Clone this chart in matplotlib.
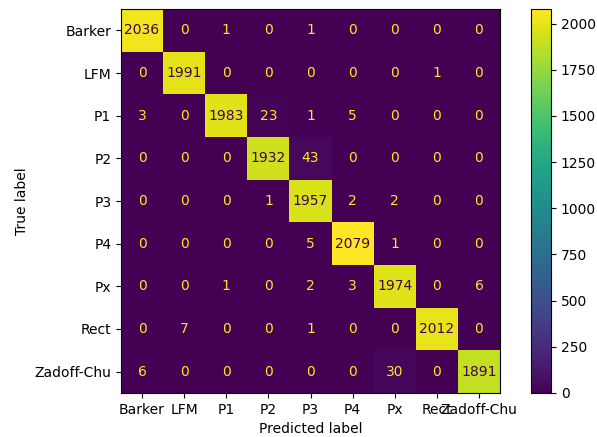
import matplotlib
matplotlib.use("Agg")
import matplotlib.pyplot as plt
import numpy as np

labels = ["Barker", "LFM", "P1", "P2", "P3", "P4", "Px", "Rect", "Zadoff-Chu"]

# rows: true label, columns: predicted label
cm = np.array([
    [2036, 0, 1, 0, 1, 0, 0, 0, 0],
    [0, 1991, 0, 0, 0, 0, 0, 1, 0],
    [3, 0, 1983, 23, 1, 5, 0, 0, 0],
    [0, 0, 0, 1932, 43, 0, 0, 0, 0],
    [0, 0, 0, 1, 1957, 2, 2, 0, 0],
    [0, 0, 0, 0, 5, 2079, 1, 0, 0],
    [0, 0, 1, 0, 2, 3, 1974, 0, 6],
    [0, 7, 0, 0, 1, 0, 0, 2012, 0],
    [6, 0, 0, 0, 0, 0, 30, 0, 1891],
])

W, H = 597, 437
fig = plt.figure(figsize=(W / 100, H / 100), dpi=100)
ax = fig.add_axes([121 / W, 1 - 393 / H, 379 / W, 384 / H])
cax = fig.add_axes([531 / W, 1 - 393 / H, 20 / W, 384 / H])

cmap = plt.cm.viridis
im = ax.imshow(cm, interpolation="nearest", cmap=cmap, aspect="auto")

thresh = (cm.max() + cm.min()) / 2.0
cmap_min, cmap_max = cmap(0), cmap(1.0)
for i in range(cm.shape[0]):
    for j in range(cm.shape[1]):
        color = cmap_max if cm[i, j] < thresh else cmap_min
        ax.text(j, i, format(cm[i, j], "d"), ha="center", va="center", color=color)

fig.colorbar(im, cax=cax)
ax.set_xticks(np.arange(len(labels)), labels=labels)
ax.set_yticks(np.arange(len(labels)), labels=labels)
ax.set_xlabel("Predicted label")
ax.set_ylabel("True label")
ax.set_ylim(len(labels) - 0.5, -0.5)

fig.savefig("out.png", dpi=100)
